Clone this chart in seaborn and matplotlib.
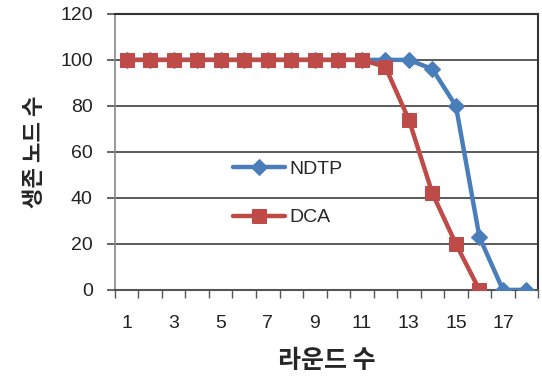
import matplotlib
matplotlib.use("Agg")
import matplotlib.pyplot as plt
import seaborn as sns
import pandas as pd

# 라운드 / 생존 노드 수
rounds_ndtp = list(range(1, 19))
ndtp = [100, 100, 100, 100, 100, 100, 100, 100, 100, 100, 100, 100, 100, 96, 80, 23, 0, 0]
rounds_dca = list(range(1, 17))
dca = [100, 100, 100, 100, 100, 100, 100, 100, 100, 100, 100, 97, 74, 42, 20, 0]
xtick_labels = [1, 3, 5, 7, 9, 11, 13, 15, 17]
yticks = [0, 20, 40, 60, 80, 100, 120]

sns.set_theme(style="white")
plt.rcParams['font.family'] = ['Liberation Sans', 'Noto Sans CJK KR', 'DejaVu Sans']

df_ndtp = pd.DataFrame({"round": rounds_ndtp, "alive": ndtp})
df_dca = pd.DataFrame({"round": rounds_dca, "alive": dca})

fig = plt.figure(figsize=(5.42, 3.85), dpi=100)
ax = fig.add_axes([0.212, 0.247, 0.781, 0.717])

# horizontal grid lines like the Excel chart
for y in yticks[1:]:
    ax.axhline(y, color="#4d4d4d", linewidth=1.3, zorder=1)

sns.lineplot(data=df_ndtp, x="round", y="alive", ax=ax, color="#4a7ebb",
             linewidth=3.2, marker="D", markersize=8.5, markeredgecolor="#4a7ebb",
             label="NDTP", zorder=3)
sns.lineplot(data=df_dca, x="round", y="alive", ax=ax, color="#be4b48",
             linewidth=3.2, marker="s", markersize=9.5, markeredgecolor="#be4b48",
             label="DCA", zorder=4)

ax.set_xlim(0.5, 18.5)
ax.set_ylim(0, 120)
ax.set_yticks(yticks)
ax.set_xticks(xtick_labels)
ax.set_xticks([i + 0.5 for i in range(0, 19)], minor=True)
ax.tick_params(axis="x", which="major", length=0, pad=18, labelsize=14, labelcolor="#222222")
ax.tick_params(axis="x", which="minor", length=6, width=1, color="#555555", direction="out", bottom=True)
ax.tick_params(axis="y", length=6, width=1.2, color="#4d4d4d", direction="out", left=True,
               labelsize=14, labelcolor="#222222", pad=10)

for side in ["top", "right"]:
    ax.spines[side].set_color("#333333")
    ax.spines[side].set_linewidth(1.5)
ax.spines["left"].set_color("#888888")
ax.spines["left"].set_linewidth(1.2)
ax.spines["bottom"].set_color("#555555")
ax.spines["bottom"].set_linewidth(1.5)

ax.set_xlabel("라운드 수", fontsize=18, fontweight="bold", family=['Noto Sans CJK KR', 'DejaVu Sans'],
              labelpad=12)
ax.set_ylabel("생존 노드 수", fontsize=16, fontweight="bold", family=['Noto Sans CJK KR', 'DejaVu Sans'],
              labelpad=10)

ax.legend(loc="center left", bbox_to_anchor=(0.255, 0.35), frameon=False, fontsize=14,
          handlelength=2.7, handletextpad=0.2, labelspacing=1.6, borderpad=0)

fig.savefig("out.png", dpi=100)
